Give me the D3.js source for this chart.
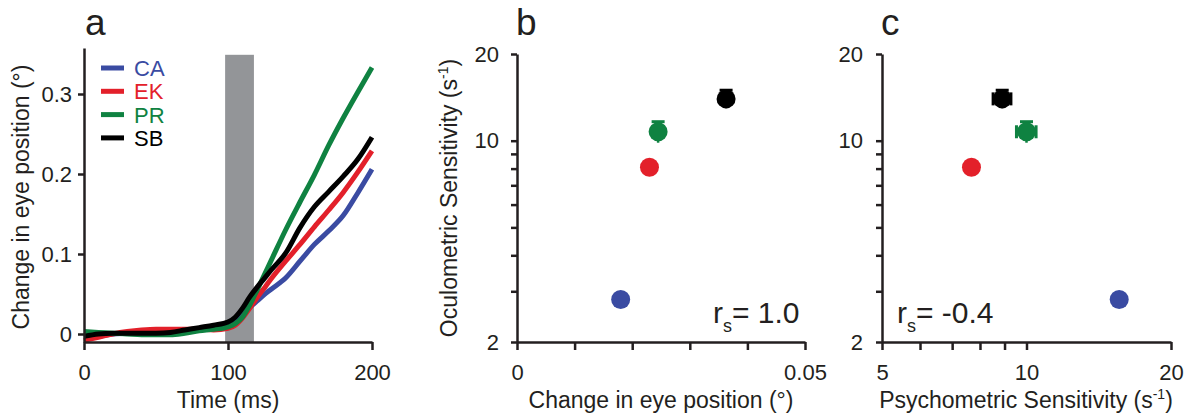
<!DOCTYPE html>
<html>
<head>
<meta charset="utf-8">
<script src="https://cdn.jsdelivr.net/npm/d3@7"></script>
<style>
  body { margin: 0; background: #fff; }
  svg { display: block; font-family: "Liberation Sans", Arial, sans-serif; }
  .axis path, .axis line { stroke: #231f20; stroke-width: 2.5; }
  .axis text { font-size: 22px; fill: #231f20; font-family: "Liberation Sans", Arial, sans-serif; }
</style>
</head>
<body>
<div id="fig"></div>
<script>
// Subjects and colours
var subjects = ["CA", "EK", "PR", "SB"];
var subjectColors = ["#3a4ba2", "#e3202a", "#0f8241", "#000000"];

// Panel a: eye position traces (deg) sampled at these times (ms)
var timeMs = [0, 10, 20, 30, 40, 50, 60, 70, 80, 90, 100, 105, 110, 115, 120, 125, 130, 140, 150, 160, 170, 180, 190, 200];
var traceCA = [-0.005, -0.003, 0.0, 0.001, 0.002, 0.003, 0.004, 0.005, 0.006, 0.007, 0.009, 0.014, 0.023, 0.033, 0.041, 0.049, 0.056, 0.07, 0.091, 0.112, 0.129, 0.148, 0.176, 0.206];
var traceEK = [-0.008, -0.004, 0.0, 0.003, 0.005, 0.006, 0.006, 0.006, 0.006, 0.005, 0.007, 0.011, 0.02, 0.032, 0.045, 0.057, 0.069, 0.091, 0.112, 0.134, 0.155, 0.177, 0.202, 0.229];
var tracePR = [0.003, 0.002, 0.001, 0.0, -0.001, -0.001, -0.001, 0.001, 0.004, 0.006, 0.009, 0.013, 0.021, 0.036, 0.054, 0.073, 0.092, 0.13, 0.165, 0.199, 0.236, 0.27, 0.302, 0.333];
var traceSB = [-0.003, 0.0, 0.001, 0.001, 0.001, 0.001, 0.002, 0.005, 0.008, 0.011, 0.015, 0.021, 0.032, 0.046, 0.058, 0.069, 0.08, 0.101, 0.133, 0.159, 0.178, 0.197, 0.218, 0.246];
var stimWindow = [98, 118];   // grey bar (ms)
var stimTop = 0.349;

// Panels b and c: per-subject summary values
var eyeChange = [0.018, 0.023, 0.0245, 0.0363];       // deg
var oculoSens = [2.81, 8.09, 10.74, 13.97];           // s^-1
var oculoErr = [0.1, 0.15, 0.9, 1.0];
var psychoSens = [15.6, 7.68, 10.0, 8.9];             // s^-1
var psychoErr = [0.15, 0.15, 0.47, 0.38];
var corrB = "1.0";
var corrC = "-0.4";

// Tick values
var ticksA_x = [0, 100, 200];
var ticksA_y = [0, 0.1, 0.2, 0.3];
var ticksB_x = [0, 0.01, 0.02, 0.03, 0.04, 0.05];
var labelsB_x = [0, 0.05];
var ticksSens = [2, 3, 4, 5, 6, 7, 8, 9, 10, 20];
var labelsSens = [2, 10, 20];
var ticksC_x = [5, 6, 7, 8, 9, 10, 20];
var labelsC_x = [5, 10, 20];

var traces = [traceCA, traceEK, tracePR, traceSB];
var ink = "#231f20";

var svg = d3.select("#fig").append("svg")
    .attr("width", 1188)
    .attr("height", 418);

//Scales
var xA = d3.scaleLinear().domain([0, 200]).range([84, 372]);
var yA = d3.scaleLinear().domain([-0.01, 0.3575]).range([342, 48]);
var xB = d3.scaleLinear().domain([0, 0.05]).range([517, 805]);
var ySens = d3.scaleLog().domain([2, 20]).range([342, 54]);
var xC = d3.scaleLog().domain([5, 20]).range([882, 1171]);

function xAxisAt(scale, values, labels, fmt) {
    var axis = d3.axisBottom(scale)
        .tickValues(values)
        .tickSize(8)
        .tickSizeOuter(0)
        .tickFormat(function(d) { return labels.indexOf(d) >= 0 ? fmt(d) : ""; });
    var g = svg.append("g")
        .attr("class", "axis")
        .attr("transform", "translate(0,342)")
        .call(axis);
    g.selectAll("text").attr("y", 38).attr("dy", 0);
    return g;
}

function yAxisAt(x0, scale, values, labels, fmt, pad) {
    var axis = d3.axisLeft(scale)
        .tickValues(values)
        .tickSize(6)
        .tickPadding(pad)
        .tickSizeOuter(0)
        .tickFormat(function(d) { return labels.indexOf(d) >= 0 ? fmt(d) : ""; });
    return svg.append("g")
        .attr("class", "axis")
        .attr("transform", "translate(" + x0 + ",0)")
        .call(axis);
}

/* ---------- Panel a ---------- */
svg.append("rect")
    .attr("x", xA(stimWindow[0]))
    .attr("width", xA(stimWindow[1]) - xA(stimWindow[0]))
    .attr("y", yA(stimTop))
    .attr("height", yA(-0.01) - yA(stimTop))
    .attr("fill", "#939598");

var line = d3.line()
    .curve(d3.curveMonotoneX)
    .x(function(d, i) { return xA(timeMs[i]); })
    .y(function(d) { return yA(d); });

svg.append("g")
    .selectAll("path")
    .data(traces)
    .enter()
    .append("path")
    .attr("d", line)
    .attr("fill", "none")
    .attr("stroke", function(d, i) { return subjectColors[i]; })
    .attr("stroke-width", 5)
    .attr("stroke-linejoin", "round");

xAxisAt(xA, ticksA_x, ticksA_x, d3.format("d"));
yAxisAt(84, yA, ticksA_y, ticksA_y, function(d) { return d === 0 ? "0" : d3.format(".1f")(d); }, 6);

// legend
var legend = svg.append("g");
subjects.forEach(function(s, i) {
    var base = 76 + i * 23.3;
    legend.append("line")
        .attr("x1", 101).attr("x2", 124)
        .attr("y1", base - 8).attr("y2", base - 8)
        .attr("stroke", subjectColors[i])
        .attr("stroke-width", 5);
    legend.append("text")
        .attr("x", 134).attr("y", base)
        .attr("font-size", 22)
        .attr("fill", subjectColors[i])
        .text(s);
});

/* ---------- Panel b ---------- */
xAxisAt(xB, ticksB_x, labelsB_x, function(d) { return d === 0 ? "0" : d3.format(".2f")(d); });
yAxisAt(517, ySens, ticksSens, labelsSens, d3.format("d"), 12);

function drawPoints(xs, xScale, xErr) {
    var g = svg.append("g");
    subjects.forEach(function(s, i) {
        var cx = xScale(xs[i]);
        var cy = ySens(oculoSens[i]);
        var top = ySens(oculoSens[i] + oculoErr[i]);
        var bot = ySens(oculoSens[i] - oculoErr[i]);
        g.append("line").attr("x1", cx).attr("x2", cx).attr("y1", top).attr("y2", bot)
            .attr("stroke", subjectColors[i]).attr("stroke-width", 2.5);
        g.append("line").attr("x1", cx - 6.5).attr("x2", cx + 6.5).attr("y1", top).attr("y2", top)
            .attr("stroke", subjectColors[i]).attr("stroke-width", 3);
        if (xErr) {
            var lft = xScale(xs[i] - xErr[i]);
            var rgt = xScale(xs[i] + xErr[i]);
            g.append("line").attr("x1", lft).attr("x2", rgt).attr("y1", cy).attr("y2", cy)
                .attr("stroke", subjectColors[i]).attr("stroke-width", 2.5);
            [lft, rgt].forEach(function(xx) {
                g.append("line").attr("x1", xx).attr("x2", xx).attr("y1", cy - 6.5).attr("y2", cy + 6.5)
                    .attr("stroke", subjectColors[i]).attr("stroke-width", 3);
            });
        }
        g.append("circle")
            .attr("cx", cx).attr("cy", cy).attr("r", 9.5)
            .attr("fill", subjectColors[i]);
    });
}
drawPoints(eyeChange, xB, null);

/* ---------- Panel c ---------- */
xAxisAt(xC, ticksC_x, labelsC_x, d3.format("d"));
yAxisAt(882, ySens, ticksSens, labelsSens, d3.format("d"), 13);
drawPoints(psychoSens, xC, psychoErr);

/* ---------- Text ---------- */
function panelLabel(x, t) {
    svg.append("text").attr("x", x).attr("y", 35)
        .attr("font-size", 37).attr("fill", ink).text(t);
}
panelLabel(85, "a");
panelLabel(516, "b");
panelLabel(881, "c");

function corrText(x, val) {
    var t = svg.append("text").attr("x", x).attr("y", 323)
        .attr("font-size", 30).attr("fill", ink);
    t.append("tspan").text("r");
    t.append("tspan").attr("font-size", 18).attr("dy", 9).text("s");
    t.append("tspan").attr("dy", -9).text("= " + val);
}
corrText(713, corrB);
corrText(897, corrC);

// axis titles
function addParts(t, parts) {
    t.append("tspan").text(parts[0]);
    if (parts.length > 1) {
        t.append("tspan").attr("font-size", 14).attr("dy", -9).text(parts[1]);
        t.append("tspan").attr("dy", 9).text(parts[2]);
    }
}
function xTitle(cx, parts) {
    var t = svg.append("text").attr("x", cx).attr("y", 408)
        .attr("text-anchor", "middle").attr("font-size", 23).attr("fill", ink);
    addParts(t, parts);
}
function yTitle(x, cy, parts) {
    var t = svg.append("text")
        .attr("transform", "translate(" + x + "," + cy + ")rotate(-90)")
        .attr("text-anchor", "middle").attr("font-size", 23).attr("fill", ink);
    addParts(t, parts);
}

xTitle(228, ["Time (ms)"]);
xTitle(661, ["Change in eye position (°)"]);
xTitle(1026, ["Psychometric Sensitivity (s", "-1", ")"]);
yTitle(29, 197, ["Change in eye position (°)"]);
yTitle(457, 198, ["Oculometric Sensitivity (s", "-1", ")"]);
</script>
</body>
</html>
